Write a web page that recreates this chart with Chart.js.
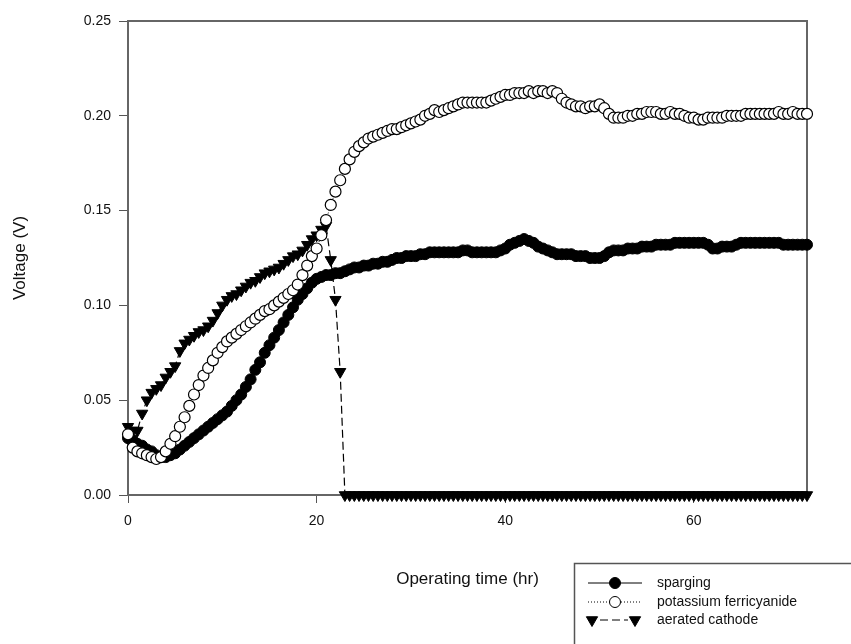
<!DOCTYPE html>
<html>
<head>
<meta charset="utf-8">
<script src="https://cdn.jsdelivr.net/npm/chart.js@4.4.1/dist/chart.umd.min.js"></script>
<style>
  html, body { margin: 0; padding: 0; background: #fff; }
</style>
</head>
<body>
<canvas id="chart" width="851" height="644"></canvas>
<script>
// operating time (hr), one reading every half hour
const hours = [
  0, 0.5, 1, 1.5, 2, 2.5, 3, 3.5, 4, 4.5, 5, 5.5, 6, 6.5, 7, 7.5, 8, 8.5, 9, 9.5,
  10, 10.5, 11, 11.5, 12, 12.5, 13, 13.5, 14, 14.5, 15, 15.5, 16, 16.5, 17, 17.5, 18, 18.5, 19, 19.5,
  20, 20.5, 21, 21.5, 22, 22.5, 23, 23.5, 24, 24.5, 25, 25.5, 26, 26.5, 27, 27.5, 28, 28.5, 29, 29.5,
  30, 30.5, 31, 31.5, 32, 32.5, 33, 33.5, 34, 34.5, 35, 35.5, 36, 36.5, 37, 37.5, 38, 38.5, 39, 39.5,
  40, 40.5, 41, 41.5, 42, 42.5, 43, 43.5, 44, 44.5, 45, 45.5, 46, 46.5, 47, 47.5, 48, 48.5, 49, 49.5,
  50, 50.5, 51, 51.5, 52, 52.5, 53, 53.5, 54, 54.5, 55, 55.5, 56, 56.5, 57, 57.5, 58, 58.5, 59, 59.5,
  60, 60.5, 61, 61.5, 62, 62.5, 63, 63.5, 64, 64.5, 65, 65.5, 66, 66.5, 67, 67.5, 68, 68.5, 69, 69.5,
  70, 70.5, 71, 71.5, 72
];

// voltage (V)
const sparging = [
  0.030, 0.029, 0.027, 0.026, 0.024, 0.023, 0.021, 0.020, 0.020, 0.021, 0.022, 0.024, 0.026, 0.028, 0.030, 0.032, 0.034, 0.036, 0.038, 0.040,
  0.042, 0.044, 0.047, 0.050, 0.053, 0.057, 0.061, 0.066, 0.070, 0.075, 0.079, 0.083, 0.087, 0.091, 0.095, 0.099, 0.103, 0.106, 0.109, 0.112,
  0.114, 0.115, 0.116, 0.116, 0.117, 0.117, 0.118, 0.119, 0.120, 0.120, 0.121, 0.121, 0.122, 0.122, 0.123, 0.123, 0.124, 0.125, 0.125, 0.126,
  0.126, 0.126, 0.127, 0.127, 0.128, 0.128, 0.128, 0.128, 0.128, 0.128, 0.128, 0.129, 0.129, 0.128, 0.128, 0.128, 0.128, 0.128, 0.128, 0.129,
  0.130, 0.132, 0.133, 0.134, 0.135, 0.134, 0.133, 0.131, 0.130, 0.129, 0.128, 0.127, 0.127, 0.127, 0.127, 0.126, 0.126, 0.126, 0.125, 0.125,
  0.125, 0.126, 0.128, 0.129, 0.129, 0.129, 0.130, 0.130, 0.130, 0.131, 0.131, 0.131, 0.132, 0.132, 0.132, 0.132, 0.133, 0.133, 0.133, 0.133,
  0.133, 0.133, 0.133, 0.132, 0.130, 0.130, 0.131, 0.131, 0.131, 0.132, 0.133, 0.133, 0.133, 0.133, 0.133, 0.133, 0.133, 0.133, 0.133, 0.132,
  0.132, 0.132, 0.132, 0.132, 0.132
];

const ferricyanide = [
  0.032, 0.025, 0.023, 0.022, 0.021, 0.020, 0.019, 0.020, 0.023, 0.027, 0.031, 0.036, 0.041, 0.047, 0.053, 0.058, 0.063, 0.067, 0.071, 0.075,
  0.078, 0.081, 0.083, 0.085, 0.087, 0.089, 0.091, 0.093, 0.095, 0.097, 0.098, 0.100, 0.102, 0.104, 0.106, 0.108, 0.111, 0.116, 0.121, 0.126,
  0.130, 0.137, 0.145, 0.153, 0.160, 0.166, 0.172, 0.177, 0.181, 0.184, 0.186, 0.188, 0.189, 0.190, 0.191, 0.192, 0.193, 0.193, 0.194, 0.195,
  0.196, 0.197, 0.198, 0.200, 0.201, 0.203, 0.202, 0.203, 0.204, 0.205, 0.206, 0.207, 0.207, 0.207, 0.207, 0.207, 0.207, 0.208, 0.209, 0.210,
  0.211, 0.211, 0.212, 0.212, 0.212, 0.213, 0.212, 0.213, 0.213, 0.212, 0.213, 0.212, 0.209, 0.207, 0.206, 0.205, 0.205, 0.204, 0.205, 0.205,
  0.206, 0.204, 0.201, 0.199, 0.199, 0.199, 0.200, 0.200, 0.201, 0.201, 0.202, 0.202, 0.202, 0.201, 0.201, 0.202, 0.201, 0.201, 0.200, 0.199,
  0.199, 0.198, 0.198, 0.199, 0.199, 0.199, 0.199, 0.200, 0.200, 0.200, 0.200, 0.201, 0.201, 0.201, 0.201, 0.201, 0.201, 0.201, 0.202, 0.201,
  0.201, 0.202, 0.201, 0.201, 0.201
];

const aerated = [
  0.036, 0.034, 0.034, 0.043, 0.050, 0.054, 0.056, 0.058, 0.062, 0.065, 0.068, 0.076, 0.080, 0.082, 0.084, 0.086, 0.087, 0.089, 0.092, 0.096,
  0.100, 0.103, 0.105, 0.106, 0.108, 0.110, 0.112, 0.113, 0.115, 0.117, 0.118, 0.119, 0.120, 0.122, 0.124, 0.126, 0.127, 0.129, 0.132, 0.135,
  0.137, 0.140, 0.142, 0.124, 0.103, 0.065, 0, 0, 0, 0, 0, 0, 0, 0, 0, 0, 0, 0, 0, 0,
  0, 0, 0, 0, 0, 0, 0, 0, 0, 0, 0, 0, 0, 0, 0, 0, 0, 0, 0, 0,
  0, 0, 0, 0, 0, 0, 0, 0, 0, 0, 0, 0, 0, 0, 0, 0, 0, 0, 0, 0,
  0, 0, 0, 0, 0, 0, 0, 0, 0, 0, 0, 0, 0, 0, 0, 0, 0, 0, 0, 0,
  0, 0, 0, 0, 0, 0, 0, 0, 0, 0, 0, 0, 0, 0, 0, 0, 0, 0, 0, 0,
  0, 0, 0, 0, 0
];

const xTicks = [0, 20, 40, 60];
const yTicks = [0, 0.05, 0.10, 0.15, 0.20, 0.25];
const legendNames = ['sparging', 'potassium ferricyanide', 'aerated cathode'];

const FONT = "'Liberation Sans', Arial, sans-serif";
Chart.defaults.font.family = FONT;
Chart.defaults.color = '#111';

function toPoints(values) {
    return hours.map((h, i) => ({ x: h, y: values[i] }));
}

// top and right sides of the plot box
const framePlugin = {
    id: 'frame',
    beforeDatasetsDraw(chart) {
        const { ctx, chartArea: a } = chart;
        ctx.save();
        ctx.strokeStyle = '#666';
        ctx.lineWidth = 2;
        ctx.beginPath();
        ctx.moveTo(a.left, a.top);
        ctx.lineTo(a.right, a.top);
        ctx.lineTo(a.right, a.bottom);
        ctx.stroke();
        ctx.restore();
    }
};

// boxed legend in the lower right corner
const legendPlugin = {
    id: 'boxLegend',
    afterDraw(chart) {
        const ctx = chart.ctx;
        ctx.save();
        ctx.strokeStyle = '#555';
        ctx.lineWidth = 1.5;
        ctx.strokeRect(574.5, 563.5, 400, 200);

        const rows = [583, 602, 620];
        legendNames.forEach((name, i) => {
            const ds = chart.data.datasets.find(d => d.label === name);
            const y = rows[i];
            ctx.strokeStyle = '#000';
            ctx.lineWidth = 1;
            ctx.setLineDash(ds.borderDash || []);
            ctx.beginPath();
            if (ds.pointStyle === 'triangle') {
                ctx.moveTo(600, y);
                ctx.lineTo(628, y);
            } else {
                ctx.moveTo(588, y);
                ctx.lineTo(642, y);
            }
            ctx.stroke();
            ctx.setLineDash([]);

            ctx.fillStyle = ds.pointBackgroundColor;
            ctx.strokeStyle = ds.pointBorderColor;
            const opts = {
                pointStyle: ds.pointStyle,
                radius: ds.pointRadius,
                rotation: ds.pointRotation || 0,
                borderWidth: ds.pointBorderWidth
            };
            if (ds.pointStyle === 'triangle') {
                Chart.helpers.drawPoint(ctx, opts, 592, y);
                Chart.helpers.drawPoint(ctx, opts, 635, y);
            } else {
                Chart.helpers.drawPoint(ctx, opts, 615, y);
            }

            ctx.fillStyle = '#111';
            ctx.font = '14px ' + FONT;
            ctx.textBaseline = 'middle';
            ctx.textAlign = 'left';
            ctx.fillText(name, 657, y);
        });
        ctx.restore();
    }
};

const ctx = document.getElementById('chart').getContext('2d');
new Chart(ctx, {
    type: 'line',
    data: {
        datasets: [
            {
                label: 'potassium ferricyanide',
                data: toPoints(ferricyanide),
                borderColor: '#000',
                borderWidth: 1,
                borderDash: [1, 2],
                pointStyle: 'circle',
                pointRadius: 5.5,
                pointBackgroundColor: '#fff',
                pointBorderColor: '#000',
                pointBorderWidth: 1.2,
                order: 0,
                clip: false
            },
            {
                label: 'sparging',
                data: toPoints(sparging),
                borderColor: '#000',
                borderWidth: 1,
                pointStyle: 'circle',
                pointRadius: 5.5,
                pointBackgroundColor: '#000',
                pointBorderColor: '#000',
                pointBorderWidth: 1,
                order: 1,
                clip: false
            },
            {
                label: 'aerated cathode',
                data: toPoints(aerated),
                borderColor: '#000',
                borderWidth: 1.2,
                borderDash: [8, 4],
                pointStyle: 'triangle',
                pointRotation: 180,
                pointRadius: 6.5,
                pointBackgroundColor: '#000',
                pointBorderColor: '#000',
                pointBorderWidth: 1,
                order: 2,
                clip: false
            }
        ]
    },
    options: {
        responsive: false,
        animation: false,
        layout: { padding: { left: 0, top: 21, right: 44, bottom: 0 } },
        plugins: {
            legend: { display: false },
            tooltip: { enabled: false }
        },
        elements: { line: { tension: 0 } },
        scales: {
            x: {
                type: 'linear',
                min: 0,
                max: 72,
                afterFit: s => { s.height = 149; },
                afterBuildTicks: s => { s.ticks = xTicks.map(v => ({ value: v })); },
                grid: { drawOnChartArea: false, tickLength: 8, color: '#555' },
                border: { color: '#666', width: 2 },
                ticks: { padding: 10, font: { size: 14 }, color: '#111' },
                title: {
                    display: true,
                    text: 'Operating time (hr)',
                    font: { size: 17 },
                    color: '#111',
                    padding: { top: 0, bottom: 54 }
                }
            },
            y: {
                type: 'linear',
                min: 0,
                max: 0.25,
                afterFit: s => { s.width = 128; },
                afterBuildTicks: s => { s.ticks = yTicks.map(v => ({ value: v })); },
                grid: { drawOnChartArea: false, tickLength: 9, color: '#555' },
                border: { color: '#666', width: 2 },
                ticks: {
                    padding: 8,
                    font: { size: 14 },
                    color: '#111',
                    callback: v => v.toFixed(2)
                },
                title: {
                    display: true,
                    text: 'Voltage (V)',
                    font: { size: 17 },
                    color: '#111',
                    padding: { top: 10, bottom: 0 }
                }
            }
        }
    },
    plugins: [framePlugin, legendPlugin]
});
</script>
</body>
</html>
